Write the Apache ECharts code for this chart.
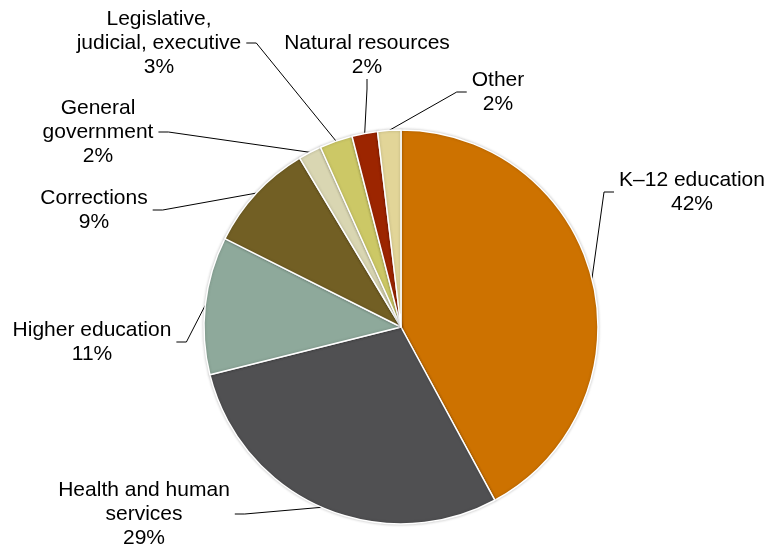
<!DOCTYPE html>
<html>
<head>
<meta charset="utf-8">
<script src="https://cdn.jsdelivr.net/npm/echarts@6/dist/echarts.min.js"></script>
<style>
html,body{margin:0;padding:0;background:#fff;}
#chart{width:770px;height:552px;}
</style>
</head>
<body>
<div id="chart"></div>
<script>
// Data (share of spending, %), clockwise from 12 o'clock
const categories = [
  'K\u201312 education',
  'Health and human\nservices',
  'Higher education',
  'Corrections',
  'General\ngovernment',
  'Legislative,\njudicial, executive',
  'Natural resources',
  'Other'
];
const values = [42.1, 29.0, 11.3, 9.0, 1.9, 2.7, 2.1, 1.9];
const colors = ['#CD7200', '#505052', '#8EA99B', '#725F24', '#D9D6B2', '#CCC866', '#9C2500', '#E2D598'];

// label centre positions (layout only)
const labelPos = [
  [692, 192],
  [144, 514],
  [92, 342],
  [94, 210],
  [98, 132],
  [159, 43],
  [367, 55],
  [498, 92]
];

const chart = echarts.init(document.getElementById('chart'), null, {renderer: 'canvas'});
chart.setOption({
  animation: false,
  backgroundColor: '#ffffff',
  series: [{
    type: 'pie',
    center: [401, 327],
    radius: 197,
    startAngle: 90,
    clockwise: true,
    avoidLabelOverlap: false,
    percentPrecision: 0,
    data: categories.map((c, i) => ({name: c, value: values[i], itemStyle: {color: colors[i]}})),
    itemStyle: {borderColor: '#ffffff', borderWidth: 1.5, shadowColor: 'rgba(0,0,0,0.22)', shadowBlur: 3},
    label: {
      show: true,
      position: 'outside',
      formatter: '{b}\n{d}%',
      fontFamily: 'Liberation Sans, Arial, sans-serif',
      fontSize: 21,
      lineHeight: 24,
      color: '#000000',
      align: 'center',
      padding: [0, 5]
    },
    labelLine: {
      show: true,
      length: 15,
      length2: 10,
      lineStyle: {color: '#000000', width: 1}
    },
    labelLayout: function (p) {
      const pos = labelPos[p.dataIndex];
      return {x: pos[0], y: pos[1], align: 'center', verticalAlign: 'middle'};
    },
    emphasis: {disabled: true}
  }]
});
</script>
</body>
</html>
